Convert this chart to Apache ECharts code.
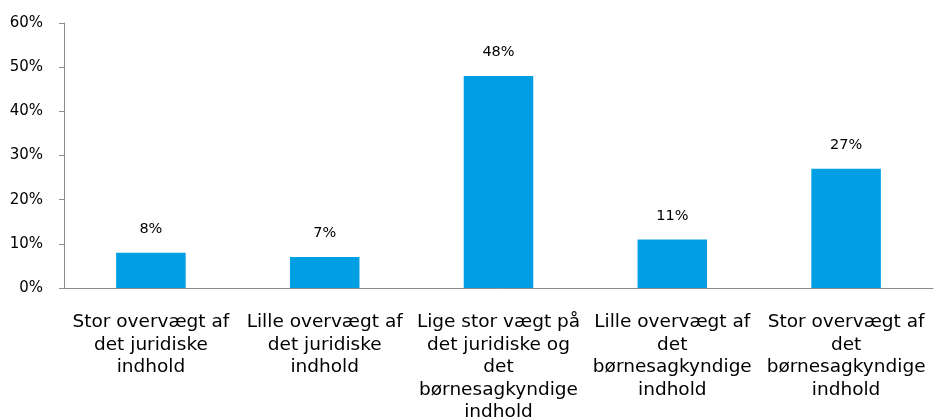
<!DOCTYPE html>
<html>
<head>
<meta charset="utf-8">
<script src="https://cdn.jsdelivr.net/npm/echarts@6/dist/echarts.min.js"></script>
<style>
  html, body { margin: 0; padding: 0; background: #fff; }
  #chart { width: 937px; height: 418px; }
</style>
</head>
<body>
<div id="chart"></div>
<script>
var categories = [
  "Stor overvægt af\ndet juridiske\nindhold",
  "Lille overvægt af\ndet juridiske\nindhold",
  "Lige stor vægt på\ndet juridiske og\ndet\nbørnesagkyndige\nindhold",
  "Lille overvægt af\ndet\nbørnesagkyndige\nindhold",
  "Stor overvægt af\ndet\nbørnesagkyndige\nindhold"
];
var values = [8, 7, 48, 11, 27];
var yTicks = [0, 10, 20, 30, 40, 50, 60];

var myChart = echarts.init(document.getElementById("chart"));
var option = {
  animation: false,
  textStyle: { fontFamily: "DejaVu Sans" },
  grid: { left: 64, right: 4, top: 23, bottom: 130, outerBoundsMode: "none", containLabel: false },
  xAxis: {
    type: "category",
    data: categories,
    axisLine: { lineStyle: { color: "#8c8c8c", width: 1 } },
    axisTick: { length: 5, lineStyle: { color: "#8c8c8c" } },
    axisLabel: {
      interval: 0,
      color: "#000",
      fontSize: 18.5,
      lineHeight: 22.5,
      margin: 23
    }
  },
  yAxis: {
    type: "value",
    min: yTicks[0],
    max: yTicks[yTicks.length - 1],
    interval: 10,
    splitLine: { show: false },
    axisLine: { show: true, lineStyle: { color: "#8c8c8c", width: 1 } },
    axisTick: { show: true, length: 5, lineStyle: { color: "#8c8c8c" } },
    axisLabel: {
      color: "#000",
      fontSize: 15,
      margin: 21,
      formatter: function (v) { return v + "%"; }
    }
  },
  series: [
    {
      type: "bar",
      data: values,
      barWidth: "40%",
      itemStyle: { color: "#009fe3" },
      label: {
        show: true,
        position: "top",
        distance: 16,
        color: "#000",
        fontSize: 14.5,
        formatter: function (p) { return p.value + "%"; }
      }
    }
  ]
};
option && myChart.setOption(option);
</script>
</body>
</html>
